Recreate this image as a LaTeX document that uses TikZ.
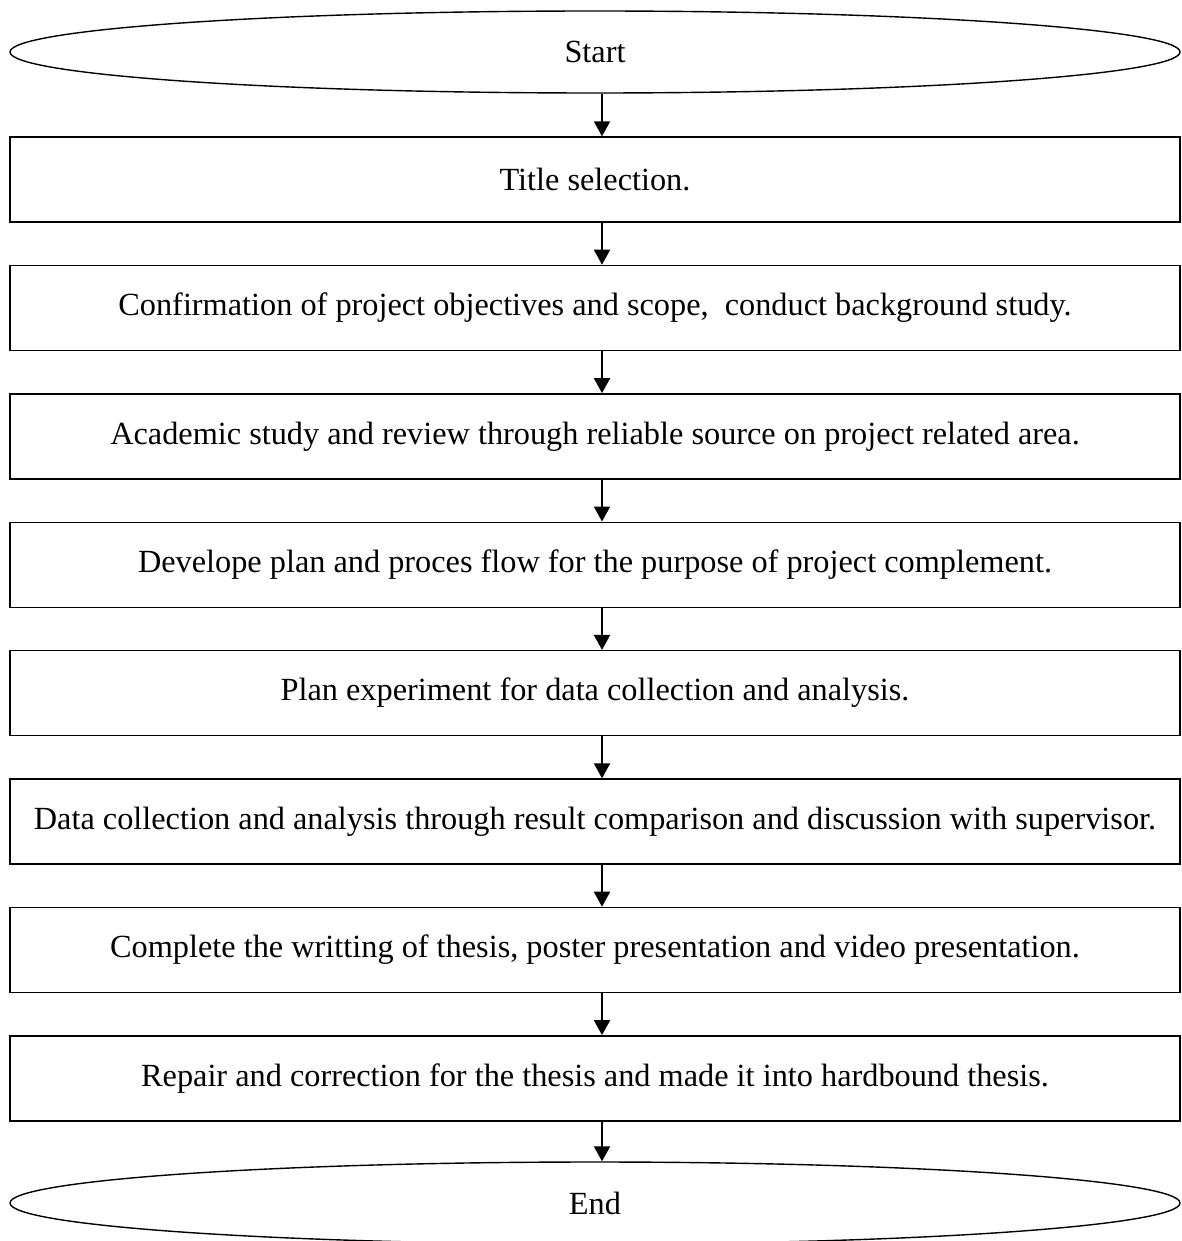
\documentclass[tikz,border=0pt]{standalone}
\usepackage{fontspec}
\setmainfont{Liberation Serif}
\usetikzlibrary{shapes.geometric,arrows.meta}
\tikzset{
  stepbox/.style={draw, line width=1.4pt, rectangle, minimum width=1170pt, minimum height=85pt, inner sep=0pt, font=\fontsize{32.3}{38}\selectfont},
  termnode/.style={draw, line width=1.4pt, ellipse, minimum width=1170pt, minimum height=82pt, inner sep=0pt, font=\fontsize{32.3}{38}\selectfont},
  flow/.style={line width=2pt, -{Triangle[width=16pt,length=15pt]}}
}
\begin{document}
\begin{tikzpicture}[x=1pt,y=-1pt]
\useasboundingbox (0,0) rectangle (1181,1241);
\node[termnode] (s) at (595,52) {Start};
\node[stepbox] (b1) at (595,179.5) {Title selection.};
\node[stepbox] (b2) at (595,307.9) {Confirmation of project objectives and scope,\ \ conduct background study.};
\node[stepbox] (b3) at (595,436.3) {Academic study and review through reliable source on project related area.};
\node[stepbox] (b4) at (595,564.7) {Develope plan and proces flow for the purpose of project complement.};
\node[stepbox] (b5) at (595,693.1) {Plan experiment for data collection and analysis.};
\node[stepbox] (b6) at (595,821.5) {Data collection and analysis through result comparison and discussion with supervisor.};
\node[stepbox] (b7) at (595,949.9) {Complete the writting of thesis, poster presentation and video presentation.};
\node[stepbox] (b8) at (595,1078.3) {Repair and correction for the thesis and made it into hardbound thesis.};
\node[termnode] (e) at (595,1203) {End};
\foreach \a/\b in {s/b1,b1/b2,b2/b3,b3/b4,b4/b5,b5/b6,b6/b7,b7/b8,b8/e}
  \draw[flow] ([xshift=7pt]\a.south) -- ([xshift=7pt]\b.north);
\end{tikzpicture}
\end{document}
